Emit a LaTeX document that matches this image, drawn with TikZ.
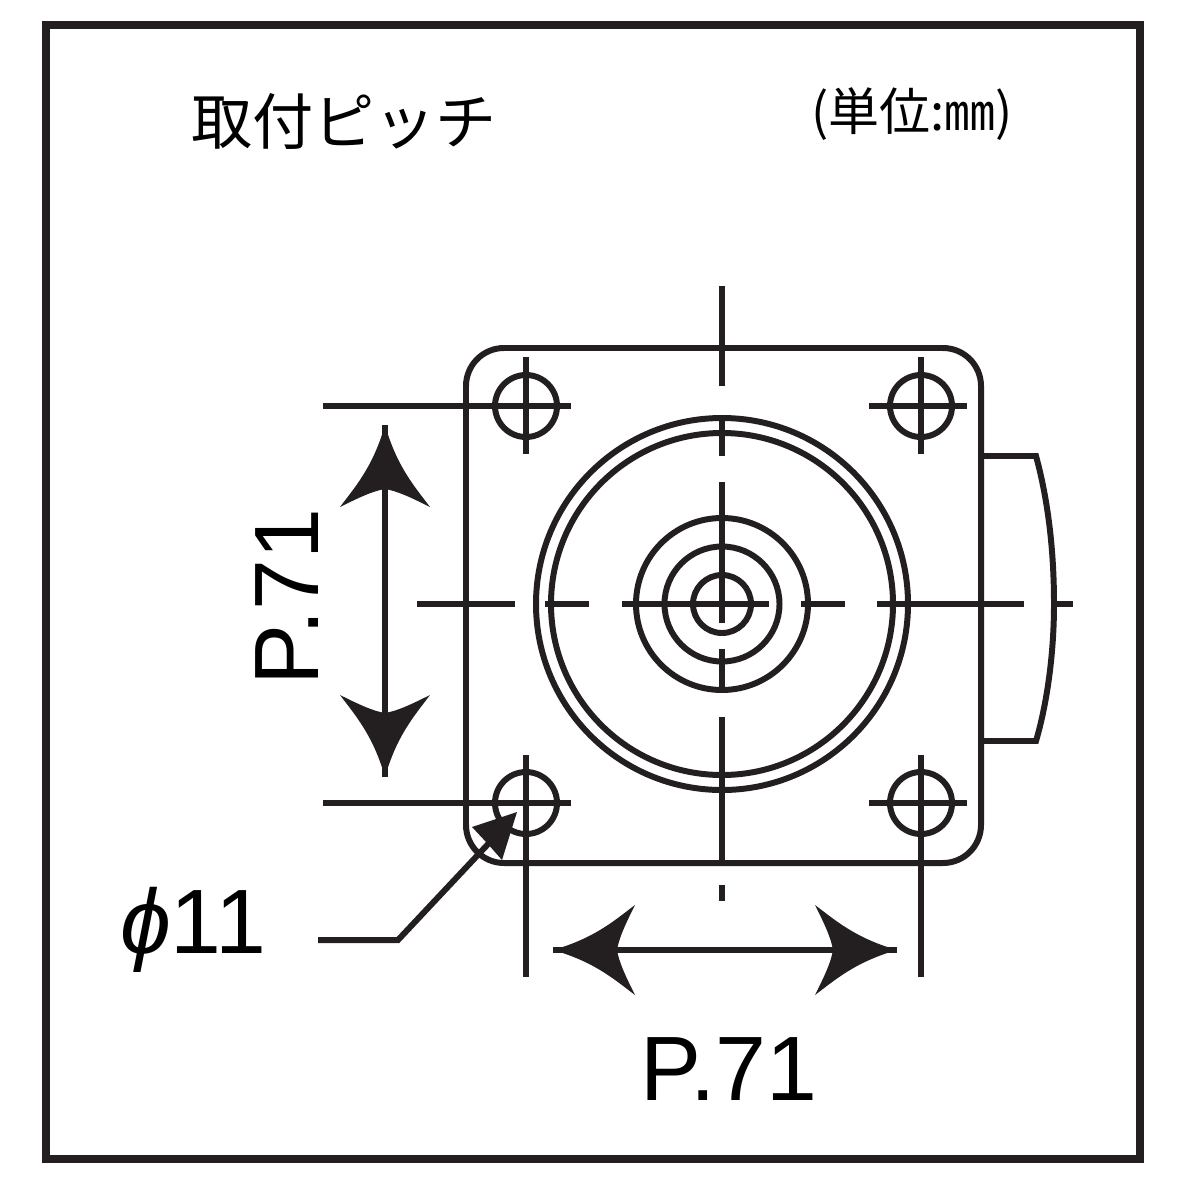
\documentclass[tikz,border=0pt]{standalone}
\usepackage{fontspec}
\setmainfont{Liberation Sans}
\newfontfamily\cjk{Noto Sans CJK JP}
\tikzset{
	part/.style={line width=1.7pt,color=ink},	% outlines and centre lines
	head/.pic={\fill[ink] (0,0) .. controls (-42,12) and (-62,30) .. (-82,45) .. controls (-72,25) and (-66,12) .. (-64,0) .. controls (-66,-12) and (-72,-25) .. (-82,-45) .. controls (-62,-30) and (-42,-12) .. (0,0) -- cycle;}
}
\definecolor{ink}{HTML}{231F20}
\begin{document}
\begin{tikzpicture}[x=0.01cm,y=-0.01cm]
	\useasboundingbox (0,0) rectangle (1200,1200);
	\draw[part,line width=2pt] (46,25) rectangle (1140,1159);
	% plate and side knob
	\draw[part,rounded corners=0.38cm] (466,348) coordinate (tl) -- (981,348) coordinate (tr) -- (981,863) coordinate (br) -- (466,863) coordinate (bl) -- cycle;
	\draw[part] (981,456) coordinate (ka) -- (1036,456) .. controls (1048,500) and (1054,550) .. (1054,604) .. controls (1054,650) and (1048,700) .. (1036,741) -- (981,741) coordinate (kb);
	% rings
	\coordinate (c) at (722,604);
	\foreach \r in {186,171,86,57.5,29}
		\draw[part] (c) circle[radius=\r];
	% holes
	\foreach \x/\y in {526/406,921/406,526/803,921/803}
		\draw[part] (\x,\y) circle[radius=31];
	% centre lines
	\foreach \a/\b in {286/386,420/456,482/623,649/691,717/860,885/901}
		\draw[part] (722,\a) -- (722,\b);
	\foreach \a/\b in {417/515,545/589,622/769,801/845,877/1024,1057/1073}
		\draw[part] (\a,604) -- (\b,604);
	\draw[part] (323,406) coordinate (ea) -- (571,406);
	\draw[part] (323,803) coordinate (eb) -- (571,803);
	\draw[part] (869,406) -- (967,406);
	\draw[part] (869,803) -- (967,803);
	\draw[part] (526,357) -- (526,454);
	\draw[part] (921,357) -- (921,454);
	\draw[part] (526,755) -- (526,977);
	\draw[part] (921,755) -- (921,977);
	% dimensions
	\coordinate (vt) at (385,425);
	\coordinate (vb) at (385,777);
	\coordinate (hl) at (553,950);
	\coordinate (hr) at (897,950);
	\draw[part] (vt) -- (vb);
	\draw[part] (hl) -- (hr);
	\pic[rotate=90] at (vt) {head};
	\pic[rotate=-90] at (vb) {head};
	\pic[rotate=180] at (hl) {head};
	\pic at (hr) {head};
	% leader
	\coordinate (lt) at (517,812);
	\draw[part] (318,940) coordinate (la) -- (398,940) coordinate (lb) -- (490,842);
	\fill[ink] (lt) -- (472,827) -- (487,843) -- (502,860) -- cycle;
	% texts
	\node[font=\cjk\fontsize{17.4}{20}\selectfont,inner sep=0pt] (title) at (344,121) {取付ピッチ};
	\node[font=\cjk\fontsize{14.5}{18}\selectfont,inner sep=0pt] (unit) at (912,114) {(単位:㎜)};
	\node[font=\fontsize{26}{30}\selectfont,inner sep=0pt] (px) at (729,1069) {P.71};
	\node[font=\fontsize{26}{30}\selectfont,inner sep=0pt,rotate=90] (py) at (287,597) {P.71};
	\node[font=\fontsize{26}{30}\selectfont,inner sep=0pt] (dia) at (193,930) {\textit{ϕ}11};
\end{tikzpicture}
\end{document}
